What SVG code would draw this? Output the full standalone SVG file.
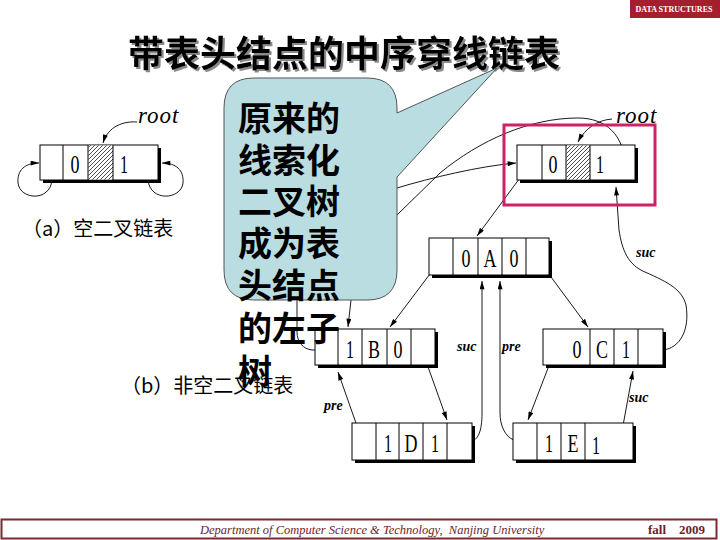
<svg xmlns="http://www.w3.org/2000/svg" width="720" height="540" viewBox="0 0 720 540">
<style>
.sh{fill:#000}
.box{fill:#fff;stroke:#000;stroke-width:1}
.dv{stroke:#000;stroke-width:1}
.hat{fill:url(#hatch);stroke:none}
.t{font-family:"Liberation Serif",serif;font-size:25px;fill:#000;text-anchor:middle}
.lbl{font-family:"Liberation Serif",serif;font-style:italic;font-weight:bold;font-size:14px;fill:#000}
.root{font-family:"Liberation Serif",serif;font-style:italic;font-size:23px;fill:#000;letter-spacing:1px}
.cap{font-family:"Noto Sans CJK SC",sans-serif;font-size:20px;fill:#000}
.ca{fill:none;stroke:#000;stroke-width:0.9;marker-end:url(#ah)}
.title{font-family:"Noto Sans CJK SC",sans-serif;font-weight:bold;font-size:36px;fill:#000}
.bub{font-family:"Noto Sans CJK SC",sans-serif;font-weight:bold;font-size:34px;fill:#000}
</style>
<defs>
<pattern id="hatch" patternUnits="userSpaceOnUse" width="4" height="4">
<rect width="4" height="4" fill="#fff"/>
<path d="M-1,1 l2,-2 M0,4 l4,-4 M3,5 l2,-2" stroke="#000" stroke-width="0.7"/>
</pattern>
<marker id="ah" viewBox="0 0 10 6" refX="10" refY="3" markerWidth="9" markerHeight="5" orient="auto" markerUnits="userSpaceOnUse">
<path d="M0,0 L10,3 L0,6 z" fill="#000"/>
</marker>
<filter id="shadow" x="-5%" y="-20%" width="110%" height="140%">
<feDropShadow dx="2" dy="2" stdDeviation="0.6" flood-color="#8a8a8a" flood-opacity="1"/>
</filter>
</defs>
<rect width="720" height="540" fill="#fff"/>

<g id="banner">
<rect x="630" y="0" width="90" height="18" fill="#a41f2e"/>
<text x="674" y="12" font-family="Liberation Serif,serif" font-weight="bold" font-size="8" fill="#fff" text-anchor="middle">DATA STRUCTURES</text>
</g>

<g id="title">
<text class="title" x="128" y="67" filter="url(#shadow)">带表头结点的中序穿线链表</text>
</g>

<text class="cap" x="22" y="236">（a）空二叉链表</text>
<text class="cap" x="121" y="393">（b）非空二叉链表</text>

<g id="connectors">
<path class="ca" d="M137,122 C124,121 108,126 103,143"/>
<path class="ca" d="M53,164 L52,180 C50,202 20,200 18,183 C17,170 25,163 39,163"/>
<path class="ca" d="M147,164 L148,180 C150,202 181,200 183,183 C184,170 176,163 162,163"/>
<path class="ca" d="M612,119 C598,120 585,128 578,142"/>
<path class="ca" d="M625,165 C624,135 606,118 578,118 C530,118 480,140 440,173 L397,215 C370,245 353,280 351,300 L348,327"/>
<path class="ca" d="M324,350 L312,350 C303,349 297,342 297,332 L297,290 C300,240 350,200 397,188 C430,178 480,166 516,163"/>
<path class="ca" d="M528,167 L477,236"/>
<path class="ca" d="M442,258 L390,327"/>
<path class="ca" d="M537,258 L588,327"/>
<path class="ca" d="M422,350 L447,420"/>
<path class="ca" d="M363,443 L338,372"/>
<path class="ca" d="M460,442 L470,442 C478,440 482,432 482,413 L482,281"/>
<path class="ca" d="M523,442 L514,440 C505,437 500,425 500,413 L500,281"/>
<path class="ca" d="M555,350 L528,420"/>
<path class="ca" d="M620,442 L633,371"/>
<path class="ca" d="M652,350 L663,350 C680,348 690,330 686,305 C682,290 670,283 645,272 C628,265 622,250 619,230 L616,187"/>
</g>

<text class="root" x="138" y="123">root</text>
<text class="root" x="616" y="123">root</text>
<text class="lbl" x="457" y="351">suc</text>
<text class="lbl" x="502" y="351">pre</text>
<text class="lbl" x="324" y="410">pre</text>
<text class="lbl" x="629" y="402">suc</text>
<text class="lbl" x="636" y="257">suc</text>

<g id="nodeA0">
<rect class="sh" x="43" y="148" width="118" height="35"/>
<rect class="box" x="40" y="145" width="118" height="35"/>
<rect class="hat" x="88.5" y="145.5" width="24.5" height="34"/>
<path class="dv" d="M63,145 V180 M88,145 V180 M113,145 V180"/>
<text class="t" x="75" y="173" textLength="9" lengthAdjust="spacingAndGlyphs">0</text>
<text class="t" x="124" y="173" textLength="8" lengthAdjust="spacingAndGlyphs">1</text>
</g>

<g id="header">
<rect x="504" y="125" width="151" height="80" fill="none" stroke="#cc2266" stroke-width="3"/>
<rect class="sh" x="520" y="148" width="118" height="35"/>
<rect class="box" x="517" y="145" width="118" height="35"/>
<rect class="hat" x="566.5" y="145.5" width="23.5" height="34"/>
<path class="dv" d="M542,145 V180 M566,145 V180 M590,145 V180"/>
<text class="t" x="553" y="173" textLength="9" lengthAdjust="spacingAndGlyphs">0</text>
<text class="t" x="600" y="173" textLength="8" lengthAdjust="spacingAndGlyphs">1</text>
</g>

<g id="nodeA">
<rect class="sh" x="432" y="241" width="120" height="37"/>
<rect class="box" x="429" y="238" width="120" height="37"/>
<path class="dv" d="M453,238 V275 M478,238 V275 M502,238 V275 M526,238 V275"/>
<text class="t" x="466" y="267" textLength="9" lengthAdjust="spacingAndGlyphs">0</text>
<text class="t" x="490" y="267" textLength="13" lengthAdjust="spacingAndGlyphs">A</text>
<text class="t" x="514" y="267" textLength="9" lengthAdjust="spacingAndGlyphs">0</text>
</g>

<g id="nodeB">
<rect class="sh" x="318" y="332" width="120" height="36"/>
<rect class="box" x="315" y="329" width="120" height="36"/>
<path class="dv" d="M338,329 V365 M362,329 V365 M387,329 V365 M411,329 V365"/>
<text class="t" x="350" y="358" textLength="8" lengthAdjust="spacingAndGlyphs">1</text>
<text class="t" x="374" y="358" textLength="12" lengthAdjust="spacingAndGlyphs">B</text>
<text class="t" x="398" y="358" textLength="9" lengthAdjust="spacingAndGlyphs">0</text>
</g>

<g id="nodeC">
<rect class="sh" x="546" y="332" width="120" height="36"/>
<rect class="box" x="543" y="329" width="120" height="36"/>
<path class="dv" d="M590,329 V365 M614,329 V365 M638,329 V365"/>
<text class="t" x="577" y="358" textLength="9" lengthAdjust="spacingAndGlyphs">0</text>
<text class="t" x="602" y="358" textLength="12" lengthAdjust="spacingAndGlyphs">C</text>
<text class="t" x="626" y="358" textLength="8" lengthAdjust="spacingAndGlyphs">1</text>
</g>

<g id="nodeD">
<rect class="sh" x="355" y="426" width="120" height="37"/>
<rect class="box" x="352" y="423" width="120" height="37"/>
<path class="dv" d="M376,423 V460 M399,423 V460 M423,423 V460 M447,423 V460"/>
<text class="t" x="388" y="452" textLength="8" lengthAdjust="spacingAndGlyphs">1</text>
<text class="t" x="411" y="452" textLength="13" lengthAdjust="spacingAndGlyphs">D</text>
<text class="t" x="435" y="452" textLength="8" lengthAdjust="spacingAndGlyphs">1</text>
</g>

<g id="nodeE">
<rect class="sh" x="516" y="426" width="120" height="37"/>
<rect class="box" x="513" y="423" width="120" height="37"/>
<path class="dv" d="M537,423 V460 M561,423 V460 M585,423 V460"/>
<text class="t" x="549" y="452" textLength="8" lengthAdjust="spacingAndGlyphs">1</text>
<text class="t" x="573" y="452" textLength="11" lengthAdjust="spacingAndGlyphs">E</text>
<text class="t" x="596" y="454" textLength="8" lengthAdjust="spacingAndGlyphs">1</text>
</g>

<g id="callout">
<path d="M254,78 L367,78 Q397,78 397,108 L397,113 L497,68 L397,177 L397,270 Q397,300 367,300 L254,300 Q224,300 224,270 L224,108 Q224,78 254,78 Z" fill="#b9dde1" stroke="#555" stroke-width="1"/>
<text class="bub"><tspan x="238" y="131">原来的</tspan><tspan x="238" y="173">线索化</tspan><tspan x="238" y="214">二叉树</tspan><tspan x="238" y="256">成为表</tspan><tspan x="238" y="298">头结点</tspan><tspan x="238" y="341">的左子</tspan><tspan x="238" y="384">树</tspan></text>
</g>

<g id="footer">
<rect x="1.5" y="519.5" width="715" height="19" fill="none" stroke="#7a2a33" stroke-width="2"/>
<text x="200" y="534" font-family="Liberation Serif,serif" font-style="italic" font-size="12.5" fill="#6b1f2a">Department of Computer Science &amp; Technology,&#160; Nanjing University</text>
<text x="648" y="534" font-family="Liberation Serif,serif" font-weight="bold" font-size="13" fill="#6b1f2a">fall</text>
<text x="679" y="534" font-family="Liberation Serif,serif" font-weight="bold" font-size="13" fill="#6b1f2a">2009</text>
</g>
</svg>
